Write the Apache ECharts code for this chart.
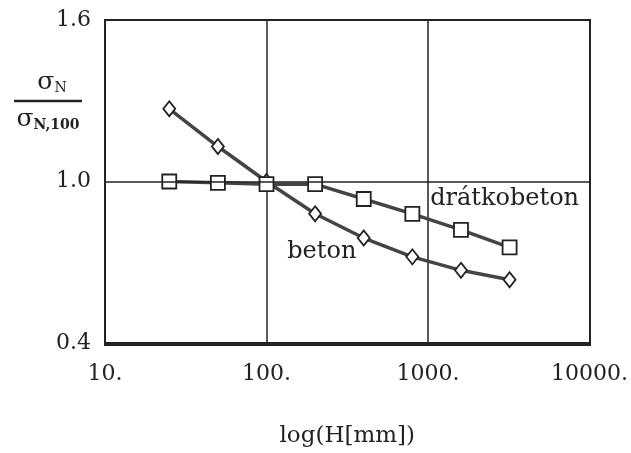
<!DOCTYPE html>
<html>
<head>
<meta charset="utf-8">
<script src="https://cdn.jsdelivr.net/npm/echarts@6/dist/echarts.min.js"></script>
<style>
  html, body { margin: 0; padding: 0; background: #fff; }
  #chart { width: 631px; height: 453px; }
</style>
</head>
<body>
<div id="chart"></div>
<script>
// magasság H [mm]
const heights = [25, 50, 100, 200, 400, 800, 1600, 3200];
// sigma_N / sigma_N,100
const beton = [1.27, 1.13, 1.0, 0.88, 0.79, 0.72, 0.67, 0.635];
const dratkobeton = [1.0, 0.995, 0.99, 0.99, 0.935, 0.88, 0.82, 0.755];
const yTicks = [0.4, 1.0, 1.6];

const font = "DejaVu Serif";
const ink = "#222";

const myChart = echarts.init(document.getElementById("chart"));

function pairs(vals) {
  return heights.map((h, i) => [h, vals[i]]);
}

const option = {
  animation: false,
  grid: { left: 105, top: 20, right: 41, bottom: 108 },
  xAxis: {
    type: "log",
    logBase: 10,
    min: 10,
    max: 10000,
    name: "log(H[mm])",
    nameLocation: "middle",
    nameGap: 82,
    nameTextStyle: { fontFamily: font, fontSize: 23, color: ink },
    axisLine: { show: true, lineStyle: { color: ink, width: 2 } },
    axisTick: { show: false },
    axisLabel: {
      fontFamily: font, fontSize: 22, color: ink, margin: 20,
      formatter: (v) => Math.round(v) + "."
    },
    splitLine: { show: true, lineStyle: { color: ink, width: 1.5 } },
    minorTick: { show: false }
  },
  yAxis: {
    type: "value",
    min: 0.4,
    max: 1.6,
    interval: 0.2,
    axisLine: { show: true, lineStyle: { color: ink, width: 2 } },
    axisTick: { show: false },
    axisLabel: {
      fontFamily: font, fontSize: 22, color: ink, margin: 14,
      formatter: (v) => (yTicks.some(t => Math.abs(t - v) < 1e-6) ? v.toFixed(1) : "")
    },
    splitLine: { show: false }
  },
  graphic: [
    // keret
    { type: "rect", shape: { x: 105, y: 20, width: 485, height: 325 },
      style: { fill: "none", stroke: ink, lineWidth: 2 }, z: 0 },
    // tengelynév: sigma_N / sigma_N,100
    { type: "text", x: 52, y: 82,
      style: { text: "{s|σ}{b|N}", align: "center", verticalAlign: "middle",
        rich: { s: { fontFamily: font, fontSize: 25, fill: ink },
                b: { fontFamily: font, fontSize: 14, fill: ink, padding: [12, 0, 0, 0] } } } },
    { type: "line", shape: { x1: 14, y1: 101, x2: 82, y2: 101 },
      style: { stroke: ink, lineWidth: 2.5 } },
    { type: "text", x: 48, y: 119,
      style: { text: "{s|σ}{b|N,100}", align: "center", verticalAlign: "middle",
        rich: { s: { fontFamily: font, fontSize: 25, fill: ink },
                b: { fontFamily: font, fontSize: 14, fontWeight: "bold", fill: ink, padding: [12, 0, 0, 0] } } } }
  ],
  series: [
    {
      name: "beton",
      type: "line",
      data: pairs(beton),
      symbol: "diamond",
      symbolSize: [12, 15],
      showAllSymbol: true,
      itemStyle: { color: "#fff", borderColor: ink, borderWidth: 1.8 },
      lineStyle: { color: "#444", width: 3.5 },
      markLine: {
        silent: true, symbol: "none", label: { show: false },
        lineStyle: { color: ink, width: 1.5, type: "solid" },
        data: [{ yAxis: 1.0 }]
      },
      markPoint: {
        symbol: "rect", symbolSize: 0,
        label: { show: true, formatter: "beton", fontFamily: font, fontSize: 24, color: ink },
        data: [{ coord: [220, 0.74] }]
      }
    },
    {
      name: "drátkobeton",
      type: "line",
      data: pairs(dratkobeton),
      symbol: "rect",
      symbolSize: 14,
      showAllSymbol: true,
      itemStyle: { color: "#fff", borderColor: ink, borderWidth: 1.8 },
      lineStyle: { color: "#444", width: 3.5 },
      markPoint: {
        symbol: "rect", symbolSize: 0,
        label: { show: true, formatter: "drátkobeton", fontFamily: font, fontSize: 24, color: ink },
        data: [{ coord: [2980, 0.935] }]
      }
    }
  ]
};

myChart.setOption(option);
</script>
</body>
</html>
